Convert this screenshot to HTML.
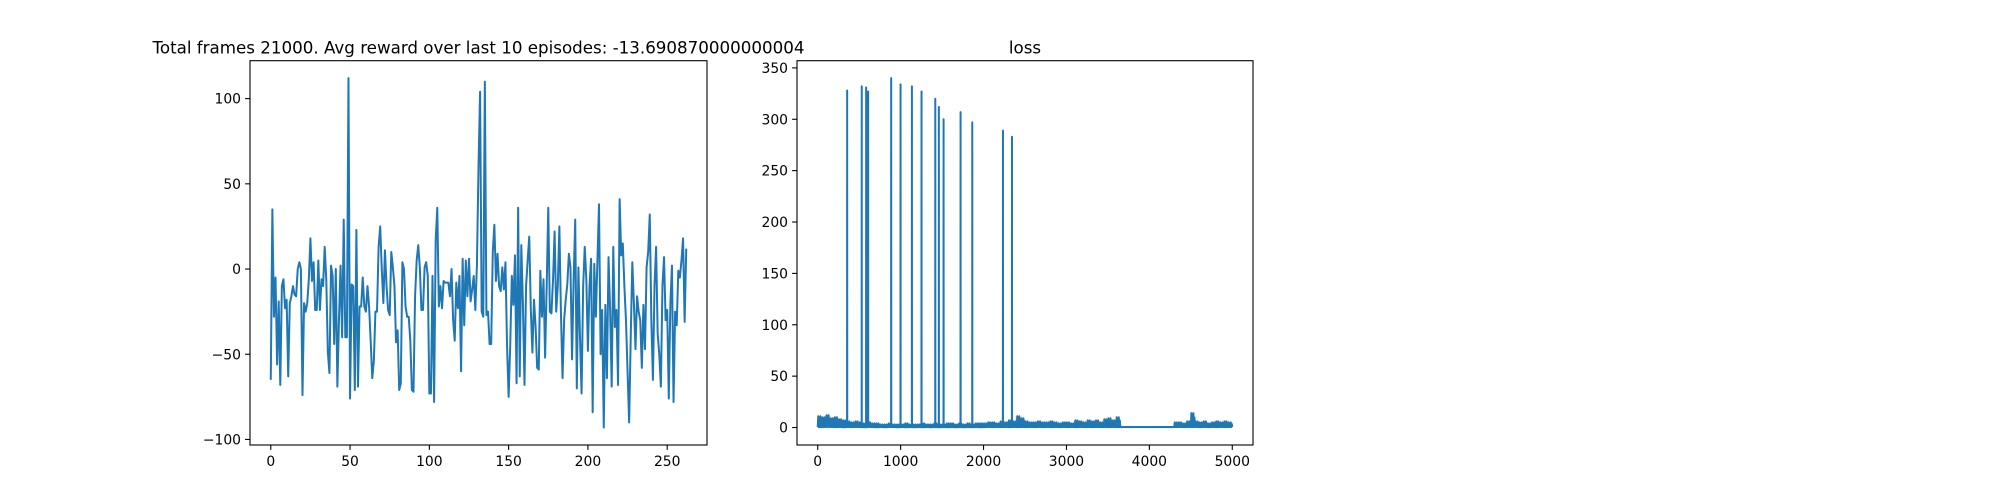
<!DOCTYPE html>
<html><head><meta charset="utf-8"><style>
html,body{margin:0;padding:0;background:#fff;}
svg{display:block;font-family:"DejaVu Sans","Liberation Sans",sans-serif;}
</style></head><body>
<svg id="fig" width="2000" height="500" viewBox="0 0 2000 500" xmlns="http://www.w3.org/2000/svg">
<rect width="2000" height="500" fill="#fff"/>
<g id="left"></g>
<g id="right"></g>
</svg>
<script>
const rewardValues = [-65,35,-28,-5,-56,-19,-68,-10,-6,-23,-18,-63,-20,-16,-10,-15,-16,0,4,0,-74,-20,-25,-20,-6,18,-7,4,-24,-24,5,-24,-6,-10,13,-6,-49,-61,2,-4,-44,0,-69,-30,2,-40,29,-40,-40,112,-76,-9,-10,-71,23,-69,-22,-22,-5,-22,-25,-10,-22,-42,-64,-54,-25,-25,13,25,0,-20,11,-10,-24,-27,10,1,-10,-43,-36,-71,-67,4,0,-22,-28,-28,-42,-71,-72,-16,5,14,1,-24,-24,1,4,-4,-73,-73,-4,-78,17,36,-22,-10,-23,-7,-8,-8,-8,-16,0,-30,-42,-8,-23,-4,-60,6,-33,5,-16,6,-19,-12,-4,-24,2,60,104,-25,-28,110,-27,-25,-44,
-44,10,26,-7,9,-10,-13,1,-12,4,-45,-75,-45,-4,-21,8,-67,36,-63,14,-20,-68,-10,5,19,-24,-49,-18,-34,-58,-59,-1,-28,-6,-52,-10,36,-25,-26,-6,22,-25,-10,25,-26,-64,-30,-18,-9,9,1,-53,-6,29,-70,1,-40,-73,-10,13,-6,-48,-10,6,-84,3,-28,5,38,-50,-24,-93,-21,-64,7,-24,-69,13,-34,-24,-68,41,8,15,-10,-30,-60,-90,-40,4,-20,-47,-16,-25,-30,-58,-21,-47,1,10,32,-30,-65,-10,13,-38,-50,-69,-10,7,-30,-24,-76,-20,2,-78,-25,-33,-1,-5,5,18,-31,12];
const rewardXTicks = [0,50,100,150,200,250];
const rewardYTicks = [-100,-50,0,50,100];
const lossBinStart = 0, lossBinStep = 50;
const lossHighs = [11,10,12,9,10,8,7,6,5,6,5,4,5,4,
4,3,3,4,3,3,3,4,3,3,3,4,3,3,4,3,3,4,4,3,4,3,4,3,4,4,
4,5,5,4,6,5,7,6,11,9,6,5,5,6,5,5,6,5,4,5,
5,4,7,6,5,7,6,7,5,8,9,7,10,
0.5,0.5,0.5,0.5,0.5,0.5,0.5,0.5,0.5,0.5,0.5,0.5,0.5,
5,5,4,6,14,6,5,6,4,5,6,5,6,5];
const lossLows = [0.5,0.4,0.6,0.5,0.4,0.5,0.3,0.5,0.4,0.5,0.4,0.3,0.5,0.4,
0.3,0.4,0.3,0.5,0.4,0.3,0.4,0.3,0.4,0.3,0.4,0.3,0.4,0.3,0.4,0.3,0.4,0.3,0.4,0.3,0.4,0.3,0.4,0.3,0.4,0.3,
0.4,0.5,0.4,0.5,0.4,0.5,0.4,0.5,0.4,0.5,0.4,0.5,0.4,0.5,0.4,0.5,0.4,0.5,0.4,0.5,
0.4,0.5,0.4,0.5,0.4,0.5,0.4,0.5,0.4,0.5,0.4,0.5,0.4,
0.5,0.5,0.5,0.5,0.5,0.5,0.5,0.5,0.5,0.5,0.5,0.5,0.5,
0.4,0.5,0.4,0.5,0.4,0.5,0.4,0.5,0.4,0.5,0.4,0.5,0.4,0.5];
const lossSpikeSteps = [355,531,584,608,886,999,1136,1252,1418,1461,1518,1723,1864,2234,2343];
const lossSpikeValues = [328,332,331,327,340,334,332,327,320,312,300,307,297,289,283];
const lossXTicks = [0,1000,2000,3000,4000,5000];
const lossYTicks = [0,50,100,150,200,250,300,350];

const NS = "http://www.w3.org/2000/svg";
function mk(parent, tag, attrs){const e=document.createElementNS(NS,tag);for(const k in attrs)e.setAttribute(k,attrs[k]);parent.appendChild(e);return e;}

function axes(g, box, xlim, ylim, xticks, yticks, title, titleName){
  const sx=v=>box.x0+(v-xlim[0])/(xlim[1]-xlim[0])*(box.x1-box.x0);
  const sy=v=>box.y1-(v-ylim[0])/(ylim[1]-ylim[0])*(box.y1-box.y0);
  const fr=mk(g,'rect',{x:box.x0,y:box.y0,width:box.x1-box.x0,height:box.y1-box.y0,fill:'none',stroke:'#000','stroke-width':1.1});
  
  
  xticks.forEach(t=>{
    const x=sx(t);
    const l=mk(g,'line',{x1:x,x2:x,y1:box.y1,y2:box.y1+4.9,stroke:'#000','stroke-width':1.1});
    
    
    const tx=mk(g,'text',{x:x,y:box.y1+21,'text-anchor':'middle','font-size':13.9,fill:'#000'});
    tx.textContent=t;
    
    
  });
  yticks.forEach(t=>{
    const y=sy(t);
    const l=mk(g,'line',{x1:box.x0-4.9,x2:box.x0,y1:y,y2:y,stroke:'#000','stroke-width':1.1});
    
    
    const tx=mk(g,'text',{x:box.x0-9,y:y+5,'text-anchor':'end','font-size':13.9,fill:'#000'});
    tx.textContent=(t<0?'\u2212'+(-t):t);
    
    
  });
  const ti=mk(g,'text',{x:(box.x0+box.x1)/2,y:box.y0-7,'text-anchor':'middle','font-size':16.7,fill:'#000'});
  ti.textContent=title;
  
  
  return {sx,sy};
}

// Left chart
const L=document.getElementById('left');
const lb={x0:250,x1:707,y0:60.7,y1:445};
const ln=rewardValues.length-1;
const ymin=Math.min(...rewardValues), ymax=Math.max(...rewardValues);
const lm=(ymax-ymin)*0.05;
const la=axes(L,lb,[-ln*0.05,ln*1.05],[ymin-lm,ymax+lm],rewardXTicks,rewardYTicks,
 'Total frames 21000. Avg reward over last 10 episodes: -13.690870000000004','reward-chart-title');
const lp=mk(L,'polyline',{points:rewardValues.map((v,i)=>la.sx(i).toFixed(2)+','+la.sy(v).toFixed(2)).join(' '),fill:'none',stroke:'#1f77b4','stroke-width':2,'stroke-linejoin':'round'});



// Right chart
const R=document.getElementById('right');
const rb={x0:797,x1:1253,y0:60.7,y1:445};
const pts=[];
lossHighs.forEach((h,i)=>{
  const s=lossBinStart+i*lossBinStep;
  const q=lossBinStep/8;
  for(let k=0;k<4;k++){pts.push([s+2*k*q,lossLows[i]]);pts.push([s+(2*k+1)*q,k%2?h*0.7:h]);}
});
lossSpikeSteps.forEach((s,k)=>{pts.push([s-1,lossLows[0]]);pts.push([s,lossSpikeValues[k]]);pts.push([s+1,lossLows[0]]);});
pts.sort((a,b)=>a[0]-b[0]);
pts.push([5000,lossLows[lossLows.length-1]]);
const lmax=Math.max(...lossSpikeValues), lmin=0;
const rm=(lmax-lmin)*0.05;
const ra=axes(R,rb,[-250,5250],[lmin-rm,lmax+rm],lossXTicks,lossYTicks,'loss','loss-chart-title');
const rp=mk(R,'polyline',{points:pts.map(p=>ra.sx(p[0]).toFixed(2)+','+ra.sy(p[1]).toFixed(2)).join(' '),fill:'none',stroke:'#1f77b4','stroke-width':2,'stroke-linejoin':'round'});


</script>
</body></html>
